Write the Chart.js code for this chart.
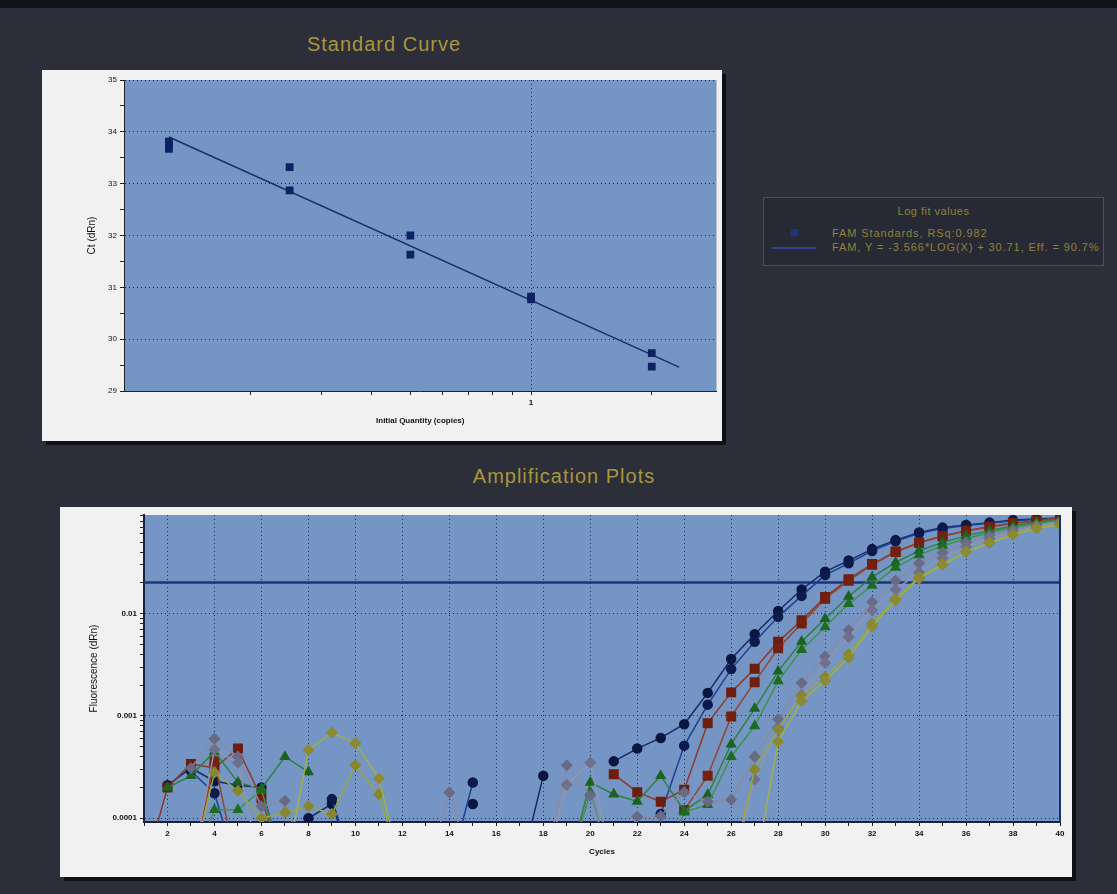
<!DOCTYPE html>
<html>
<head>
<meta charset="utf-8">
<script src="https://cdn.jsdelivr.net/npm/chart.js@4.4.0/dist/chart.umd.min.js"></script>
<style>
  body { margin: 0; width: 1117px; height: 894px; background: #2c2e3a; position: relative; overflow: hidden;
         font-family: Arial, "Liberation Sans", sans-serif; }
  .strip { position: absolute; left: 0; top: 0; width: 1117px; height: 8px; background: #121318; }
  .title { position: absolute; color: #a8973c; font-size: 20px; letter-spacing: 1px; transform: translateX(-50%); white-space: nowrap; }
  .panel { position: absolute; background: #f1f1f1; box-shadow: 4px 4px 0 #0f1015; }
  .panel canvas { display: block; }
  #legend { position: absolute; left: 763px; top: 197px; width: 339px; height: 67px;
            border: 1px solid #4c4e58; background: #272934; color: #8f8337; font-size: 11px; }
  #legend .lt { position: absolute; left: 0; width: 100%; top: 7px; text-align: center; letter-spacing: 0.5px; }
  #legend .sq { position: absolute; left: 27px; top: 31px; width: 7px; height: 7px; background: #1a3386; }
  #legend .ln { position: absolute; left: 8px; top: 49px; width: 44px; height: 2px; background: #2a4590; }
  #legend .t1 { position: absolute; left: 68px; top: 29px; white-space: nowrap; letter-spacing: 0.9px; }
  #legend .t2 { position: absolute; left: 68px; top: 43px; white-space: nowrap; letter-spacing: 0.9px; }
</style>
</head>
<body>
<div class="strip"></div>
<div class="title" style="left:384px;top:33px">Standard Curve</div>
<div class="panel" style="left:42px;top:70px;width:680px;height:371px">
  <canvas id="stdChart" width="680" height="371"></canvas>
</div>
<div id="legend">
  <div class="lt">Log fit values</div>
  <span class="sq"></span><span class="ln"></span>
  <div class="t1">FAM Standards, RSq:0.982</div>
  <div class="t2">FAM, Y = -3.566*LOG(X) + 30.71, Eff. = 90.7%</div>
</div>
<div class="title" style="left:564px;top:465px">Amplification Plots</div>
<div class="panel" style="left:60px;top:507px;width:1012px;height:370px">
  <canvas id="ampChart" width="1012" height="370"></canvas>
</div>
<script>
// standard curve points (copies vs Ct)
const stdQty = [0.125, 0.125, 0.125, 0.25, 0.25, 0.5, 0.5, 1, 1, 2, 2];
const stdCt = [33.81, 33.74, 33.67, 33.32, 32.87, 32.0, 31.63, 30.82, 30.77, 29.73, 29.47];
// fit line ends
const fitQty = [0.125, 2.34];
const fitCt = [33.9, 29.46];
const stdXTicks = [0.2, 0.3, 0.4, 0.5, 0.6, 0.7, 0.8, 0.9, 1, 2];

// amplification curves, one value per cycle (null = nothing drawn)
const cycles = [1, 2, 3, 4, 5, 6, 7, 8, 9, 10, 11, 12, 13, 14, 15, 16, 17, 18, 19, 20,
                21, 22, 23, 24, 25, 26, 27, 28, 29, 30, 31, 32, 33, 34, 35, 36, 37, 38, 39, 40];
const navyA = [
  null, 0.00021, 0.00031, 0.00023, 0.00021, 0.0002, 0.00003, 0.0001, 0.000138, 0.00003,
  null, null, null, null, 0.000138, null, 0.00003, 0.00026, null, null,
  0.00036, 0.00048, 0.00061, 0.00083, 0.00168, 0.0036, 0.0063, 0.0106, 0.0172, 0.0257,
  0.033, 0.0427, 0.0523, 0.062, 0.0693, 0.0735, 0.0775, 0.082, 0.084, 0.086];
const navyB = [
  null, null, 0.00029, 0.000176, 0.00003, null, null, null, 0.000154, 0.00003,
  null, null, null, 0.00003, 0.000224, null, null, null, null, null,
  null, null, 0.00011, 0.000513, 0.00129, 0.00287, 0.00532, 0.0093, 0.0149, 0.0238,
  0.031, 0.041, 0.051, 0.061, 0.068, 0.0725, 0.0765, 0.081, 0.083, 0.085];
const red1 = [
  0.00003, 0.0002, 0.00034, 0.00031, 0.00048, 0.000157, 0.00003, null, null, null,
  null, null, null, null, null, null, null, null, null, null,
  0.00027, 0.00018, 0.000145, 0.00019, 0.00085, 0.0017, 0.0029, 0.0053, 0.0086, 0.0145,
  0.0217, 0.0305, 0.0404, 0.0495, 0.0575, 0.0645, 0.071, 0.077, 0.081, 0.0875];
const red2 = [
  null, null, 0.00003, 0.00036, 0.00003, null, null, null, null, null,
  null, null, null, null, null, null, null, null, null, null,
  null, null, null, 0.00012, 0.00026, 0.00099, 0.00214, 0.0046, 0.008, 0.014,
  0.021, 0.03, 0.04, 0.049, 0.057, 0.064, 0.07, 0.076, 0.08, 0.085];
const green1 = [
  null, 0.0002, 0.00026, 0.00045, 0.000224, 0.000195, 0.0004, 0.000284, null, null,
  null, null, null, null, null, null, null, null, 0.00003, 0.000224,
  0.000172, 0.000146, 0.00026, 0.000118, 0.00017, 0.00053, 0.00118, 0.00273, 0.00533, 0.0089,
  0.0147, 0.0227, 0.0316, 0.0412, 0.0497, 0.0575, 0.065, 0.072, 0.078, 0.083];
const green2 = [
  null, null, 0.00003, 0.000121, 0.000121, 0.00019, 0.00003, null, null, null,
  null, null, null, null, null, null, null, null, 0.00003, 0.00018,
  0.00003, null, 0.00003, 0.000115, 0.000136, 0.0004, 0.0008, 0.00219, 0.00443, 0.0074,
  0.0125, 0.0188, 0.0283, 0.0375, 0.046, 0.054, 0.062, 0.069, 0.076, 0.081];
const gray1 = [
  null, null, 0.00031, 0.0006, 0.0004, 0.000131, 0.000148, 0.00003, null, null,
  null, null, 0.00003, 0.000179, 0.00003, null, null, 0.00003, 0.00033, 0.000167,
  0.00003, 0.000104, 0.000105, 0.00018, 0.000146, 0.000152, 0.0004, 0.00093, 0.0021, 0.0038,
  0.0069, 0.013, 0.021, 0.031, 0.0396, 0.0497, 0.058, 0.066, 0.073, 0.08];
const gray2 = [
  null, null, 0.00003, 0.00047, 0.00035, 0.00003, null, null, null, null,
  null, null, null, null, null, null, null, 0.00003, 0.000212, 0.00035,
  0.00003, null, null, null, null, 0.00003, 0.00024, 0.00077, 0.0016, 0.0033,
  0.0059, 0.0108, 0.0172, 0.0253, 0.035, 0.045, 0.054, 0.063, 0.071, 0.078];
const olive1 = [
  null, null, 0.00003, 0.00028, 0.000186, 0.0001, 0.000114, 0.000131, 0.00011, 0.00033,
  0.000172, 0.00003, null, null, null, null, null, null, null, null,
  null, null, null, null, null, 0.00003, 0.0003, 0.00074, 0.00157, 0.0024,
  0.004, 0.008, 0.014, 0.0227, 0.0306, 0.0404, 0.0497, 0.06, 0.0688, 0.075];
const olive2 = [
  null, null, null, null, null, null, 0.00003, 0.000465, 0.00069, 0.00054,
  0.000245, 0.00003, null, null, null, null, null, null, null, null,
  null, null, null, null, null, null, 0.00003, 0.00056, 0.0014, 0.0022,
  0.0037, 0.0075, 0.0135, 0.022, 0.03, 0.04, 0.049, 0.059, 0.068, 0.074];
const threshold = 0.0201;
const ampYLabels = ['0.0001', '0.001', '0.01'];

const FONT = 'Arial, "Liberation Sans", sans-serif';
const PLOT_BG = '#7596c4';
const GRID = '#1b2b5e';

const plotBg = {
    id: 'plotBg',
    beforeDraw(chart, args, opts) {
        const a = chart.chartArea;
        const ctx = chart.ctx;
        ctx.save();
        ctx.fillStyle = opts.color;
        ctx.fillRect(a.left, a.top, a.right - a.left, a.bottom - a.top);
        ctx.restore();
    },
    afterDraw(chart, args, opts) {
        if (!opts.rightEdge) return;
        const a = chart.chartArea;
        const ctx = chart.ctx;
        ctx.save();
        ctx.strokeStyle = opts.rightEdge;
        ctx.lineWidth = 2;
        ctx.beginPath();
        ctx.moveTo(a.right, a.top);
        ctx.lineTo(a.right, a.bottom);
        ctx.stroke();
        ctx.restore();
    }
};

// ---- standard curve
new Chart(document.getElementById('stdChart'), {
    type: 'scatter',
    data: {
        datasets: [{
            data: stdQty.map((q, i) => ({ x: q, y: stdCt[i] })),
            pointStyle: 'rect',
            pointRadius: 5.5,
            backgroundColor: '#0e2263',
            borderColor: '#0e2263',
            borderWidth: 0
        }, {
            type: 'line',
            data: fitQty.map((q, i) => ({ x: q, y: fitCt[i] })),
            borderColor: '#1b2f6c',
            borderWidth: 1.5,
            pointRadius: 0
        }]
    },
    options: {
        responsive: false,
        devicePixelRatio: 1,
        animation: false,
        layout: { padding: { left: 40, top: 10, right: 4, bottom: 0 } },
        plugins: { legend: { display: false }, tooltip: { enabled: false }, plotBg: { color: PLOT_BG } },
        scales: {
            x: {
                type: 'logarithmic',
                min: 0.0966,
                max: 2.9,
                afterBuildTicks: s => { s.ticks = stdXTicks.map(v => ({ value: v })); },
                afterFit: s => { s.height = 50; },
                ticks: {
                    autoSkip: false, maxRotation: 0, padding: 3,
                    callback: v => (v === 1 ? '1' : ''),
                    font: { family: FONT, size: 8, weight: 'bold' }, color: '#111'
                },
                grid: {
                    color: c => (c.tick && c.tick.value === 1 ? GRID : 'transparent'),
                    tickColor: '#222', tickLength: 4
                },
                border: { display: true, color: '#222', width: 1, dash: [1, 3] },
                title: {
                    display: true, text: 'Initial Quantity (copies)',
                    font: { family: FONT, size: 8, weight: 'bold' }, color: '#111',
                    padding: { top: 4, bottom: 15 }
                }
            },
            y: {
                min: 29,
                max: 35,
                afterFit: s => { s.width = 42; },
                ticks: {
                    stepSize: 0.5, autoSkip: false, padding: 3,
                    callback: v => (Number.isInteger(v) ? v : ''),
                    font: { family: FONT, size: 8 }, color: '#111'
                },
                grid: {
                    color: c => (c.tick && Number.isInteger(c.tick.value) && c.tick.value > 29 ? GRID : 'transparent'),
                    tickColor: '#222', tickLength: 4
                },
                border: { display: true, color: '#222', width: 1, dash: [1, 3] },
                title: {
                    display: true, text: 'Ct (dRn)',
                    font: { family: FONT, size: 10 }, color: '#111',
                    padding: { top: 4, bottom: 0 }
                }
            }
        }
    },
    plugins: [plotBg]
});

// ---- amplification plots
function curve(values, line, fill, shape, radius) {
    return {
        data: cycles.map((c, i) => ({ x: c, y: values[i] })),
        borderColor: line,
        borderWidth: 1.5,
        backgroundColor: fill,
        pointBorderColor: fill,
        pointStyle: shape,
        pointRadius: radius,
        spanGaps: false
    };
}

const ampYTicks = [];
[0.0001, 0.001, 0.01].forEach(d => { for (let k = 1; k <= 9; k++) ampYTicks.push(k * d); });

new Chart(document.getElementById('ampChart'), {
    type: 'line',
    data: {
        datasets: [
            {
                data: [{ x: 1, y: threshold }, { x: 40, y: threshold }],
                borderColor: '#1a3478', borderWidth: 2.5, pointRadius: 0, order: 100
            },
            curve(olive2, '#a0b048', '#8c8a32', 'rectRot', 5),
            curve(olive1, '#96a840', '#88862e', 'rectRot', 5),
            curve(gray2, '#9595ad', '#70708a', 'rectRot', 5),
            curve(gray1, '#8a8aa2', '#6a6a84', 'rectRot', 5),
            curve(green2, '#3b9448', '#1f6b22', 'triangle', 5),
            curve(green1, '#2f8040', '#1a6320', 'triangle', 5),
            curve(red2, '#94452f', '#74200f', 'rect', 6),
            curve(red1, '#8a3b2c', '#6e1c0e', 'rect', 6),
            curve(navyB, '#1f3f94', '#0c1a4c', 'circle', 4.5),
            curve(navyA, '#16296a', '#0a1640', 'circle', 4.5)
        ]
    },
    options: {
        responsive: false,
        devicePixelRatio: 1,
        animation: false,
        layout: { padding: { left: 26, top: 8, right: 12, bottom: 0 } },
        plugins: {
            legend: { display: false }, tooltip: { enabled: false },
            plotBg: { color: PLOT_BG, rightEdge: '#1a2f70' }
        },
        scales: {
            x: {
                type: 'linear',
                min: 1,
                max: 40,
                afterFit: s => { s.height = 55; },
                ticks: {
                    stepSize: 1, autoSkip: false, maxRotation: 0, padding: 3,
                    callback: v => (v % 2 === 0 ? v : ''),
                    font: { family: FONT, size: 8, weight: 'bold' }, color: '#111'
                },
                grid: {
                    color: c => (c.tick && c.tick.value % 2 === 0 && c.tick.value < 40 ? GRID : 'transparent'),
                    tickColor: '#222', tickLength: 4
                },
                border: { display: true, color: '#1a2040', width: 2, dash: [1, 3] },
                title: {
                    display: true, text: 'Cycles',
                    font: { family: FONT, size: 8, weight: 'bold' }, color: '#111',
                    padding: { top: 4, bottom: 20 }
                }
            },
            y: {
                type: 'logarithmic',
                min: 0.000092,
                max: 0.092,
                afterBuildTicks: s => { s.ticks = ampYTicks.map(v => ({ value: v })); },
                afterFit: s => { s.width = 58; },
                ticks: {
                    autoSkip: false, padding: 3,
                    callback: (v, i) => (i % 9 === 0 ? ampYLabels[i / 9] : ''),
                    font: { family: FONT, size: 8, weight: 'bold' }, color: '#111'
                },
                grid: {
                    color: c => (c.index % 9 === 0 ? GRID : 'transparent'),
                    tickColor: '#222', tickLength: 4
                },
                border: { display: true, color: '#1a2040', width: 2, dash: [1, 3] },
                title: {
                    display: true, text: 'Fluorescence (dRn)',
                    font: { family: FONT, size: 10 }, color: '#111',
                    padding: { top: 2, bottom: 0 }
                }
            }
        }
    },
    plugins: [plotBg]
});
</script>
</body>
</html>
